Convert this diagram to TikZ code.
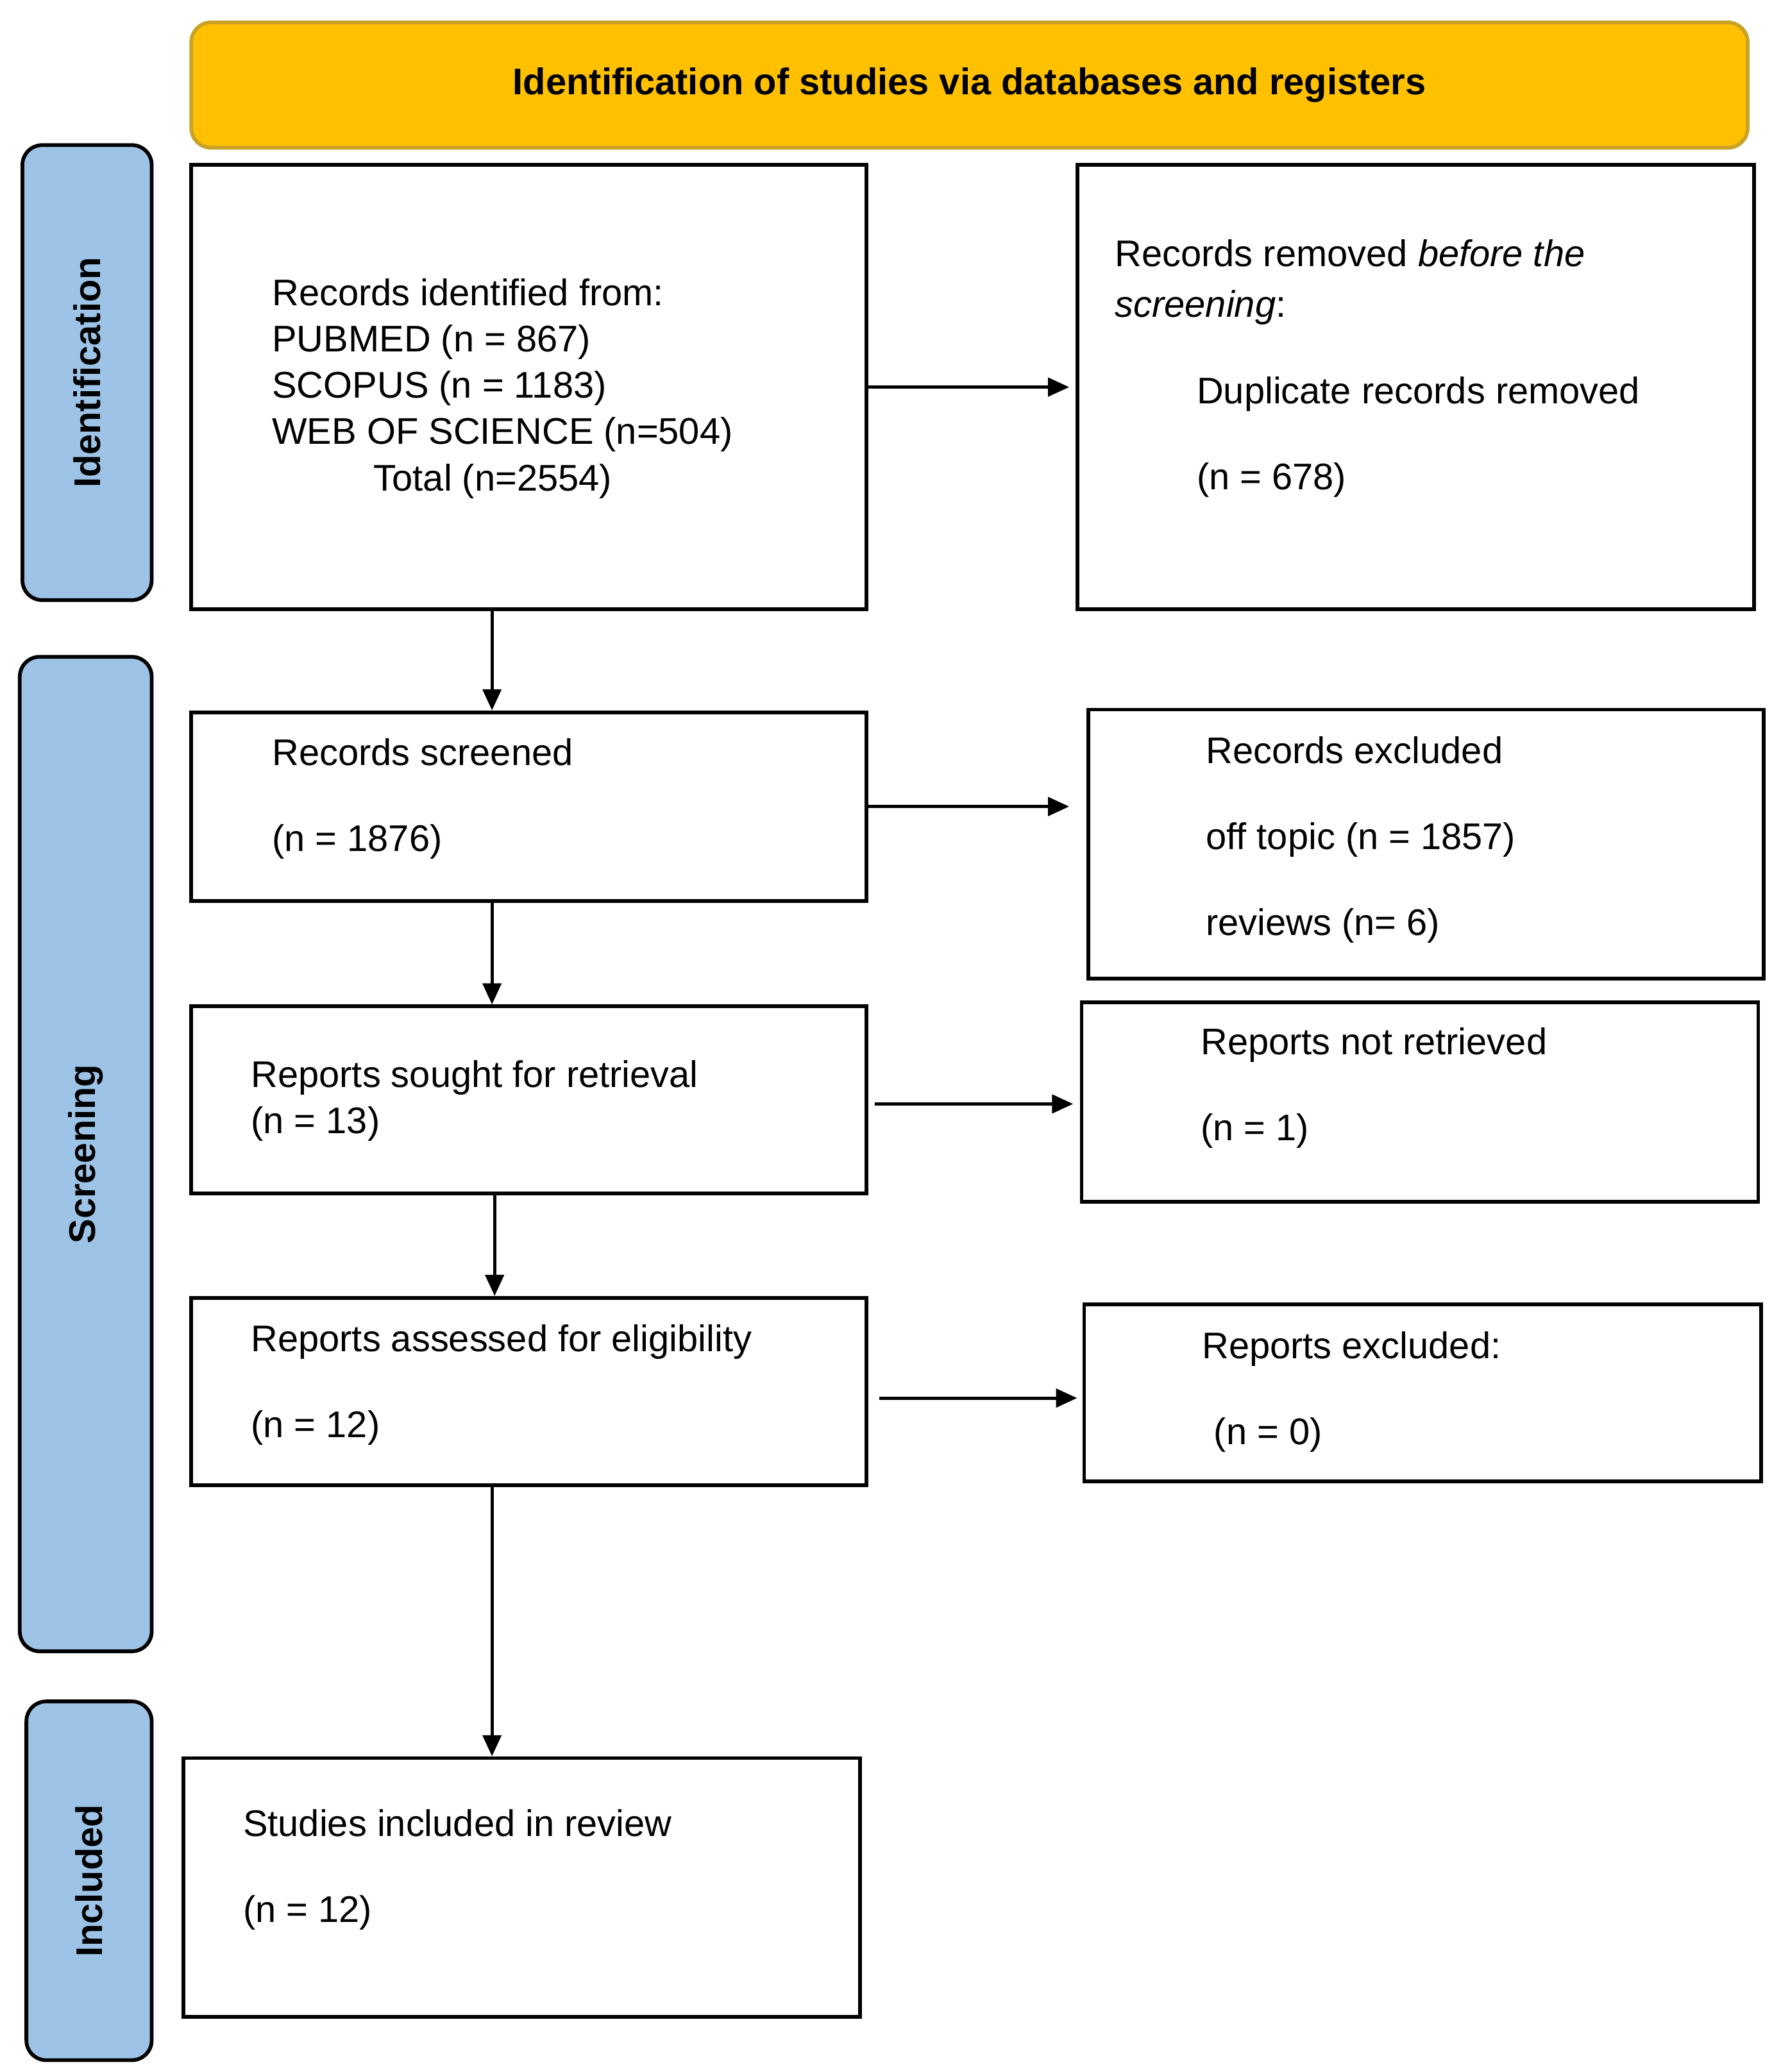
\documentclass[tikz,border=0pt]{standalone}
\usepackage{fontspec}
\setmainfont{Liberation Sans}
\usetikzlibrary{arrows.meta}

\definecolor{headgold}{HTML}{FFC000}
\definecolor{headedge}{HTML}{C9A227}
\definecolor{sideblue}{HTML}{9DC3E6}

\tikzset{
  box/.style={draw, line width=1.6pt, minimum width=#1},
  phase/.style={draw, line width=1.6pt, rounded corners=0.3cm, fill=sideblue},
  txt/.style={anchor=west, align=left, inner sep=0pt, font=\fontsize{16}{20}\selectfont},
  lab/.style={rotate=90, font=\fontsize{16}{20}\selectfont\bfseries},
  flow/.style={-{Triangle[length=0.32cm,width=0.28cm]}, line width=1.4pt}
}

\begin{document}
\begin{tikzpicture}
\useasboundingbox (0,0) rectangle (27,-31.42);

% header
\node[draw=headedge, line width=1.6pt, rounded corners=0.3cm, fill=headgold,
      minimum width=23.6cm, minimum height=1.9cm,
      font=\fontsize{16}{20}\selectfont\bfseries] (head) at (14.7,-1.29)
      {Identification of studies via databases and registers};

% phases
\node[phase, minimum width=6.9cm, minimum height=1.96cm, rotate=90] (pid) at (1.32,-5.65) {};
\node[lab] (pidt) at (pid) {Identification};
\node[phase, minimum width=15.08cm, minimum height=2cm, rotate=90] (pscr) at (1.3,-17.5) {};
\node[lab] (pscrt) at (pscr) {Screening};
\node[phase, minimum width=5.44cm, minimum height=1.9cm, rotate=90] (pinc) at (1.35,-28.52) {};
\node[lab] (pinct) at (pinc) {Included};

% boxes
\node[box=10.24cm, minimum height=6.74cm] (ident) at (8.02,-5.87) {};
\node[box=10.26cm, minimum height=6.74cm] (remov) at (21.47,-5.87) {};
\node[box=10.24cm, minimum height=2.86cm] (screen) at (8.02,-12.23) {};
\node[box=10.24cm, minimum height=4.08cm] (exclu) at (21.62,-12.8) {};
\node[box=10.24cm, minimum height=2.84cm] (sought) at (8.02,-16.68) {};
\node[box=10.26cm, minimum height=3.02cm] (notret) at (21.53,-16.71) {};
\node[box=10.24cm, minimum height=2.84cm] (assess) at (8.02,-21.1) {};
\node[box=10.26cm, minimum height=2.68cm] (repex) at (21.57,-21.12) {};
\node[box=10.26cm, minimum height=3.92cm] (incl) at (7.91,-28.62) {};

% texts
\node[txt] (identt) at (4.12,-5.89) {Records identified from:\\PUBMED (n = 867)\\SCOPUS (n = 1183)\\WEB OF SCIENCE (n=504)\\\hspace*{1.54cm}Total (n=2554)};
\node[txt] (removt) at (16.9,-4.28) {Records removed \textit{before the}\\[0.06cm]\textit{screening}:};
\node[txt] (dupt) at (18.14,-6.63) {Duplicate records removed\\[0.6cm](n = 678)};
\node[txt] (screent) at (4.12,-12.11) {Records screened\\[0.6cm](n = 1876)};
\node[txt] (exclut) at (18.28,-12.73) {Records excluded\\[0.6cm]off topic (n = 1857)\\[0.6cm]reviews (n= 6)};
\node[txt] (soughtt) at (3.8,-16.69) {Reports sought for retrieval\\(n = 13)};
\node[txt] (notrett) at (18.2,-16.5) {Reports not retrieved\\[0.6cm](n = 1)};
\node[txt] (assesst) at (3.8,-21) {Reports assessed for eligibility\\[0.6cm](n = 12)};
\node[txt] (repext) at (18.22,-21.11) {Reports excluded:\\[0.6cm]\hspace*{0.18cm}(n = 0)};
\node[txt] (inclt) at (3.68,-28.35) {Studies included in review\\[0.6cm](n = 12)};

% arrows
\coordinate (down) at (7.46,0);
\draw[flow] (ident.south -| down) -- (screen.north -| down);
\draw[flow] (screen.south -| down) -- (sought.north -| down);
\draw[flow] ([xshift=0.04cm]sought.south -| down) -- ([xshift=0.04cm]assess.north -| down);
\draw[flow] (assess.south -| down) -- (incl.north -| down);
\draw[flow, shorten >=0.1cm] (ident.east) -- (remov.west);
\draw[flow, shorten >=0.26cm] (screen.east) -- (exclu.west |- screen.east);
\draw[flow, shorten <=0.1cm, shorten >=0.1cm] ([yshift=-0.06cm]sought.east) -- ([yshift=-0.06cm]notret.west |- sought.east);
\draw[flow, shorten <=0.16cm, shorten >=0.08cm] ([yshift=-0.1cm]assess.east) -- ([yshift=-0.1cm]repex.west |- assess.east);
\end{tikzpicture}
\end{document}
